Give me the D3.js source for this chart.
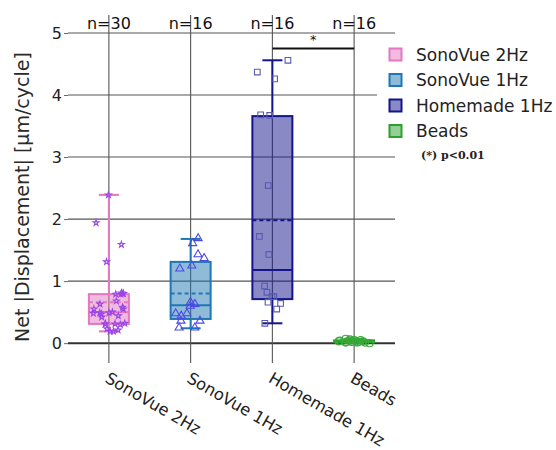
<!DOCTYPE html>
<html>
<head>
<meta charset="utf-8">
<script src="https://cdn.jsdelivr.net/npm/d3@7"></script>
<style>
  html, body { margin: 0; padding: 0; background: #fff; }
  svg { display: block; font-family: "DejaVu Sans", Verdana, sans-serif; }
</style>
</head>
<body>
<svg id="chart" width="556" height="450"></svg>
<script>
// ---- data -------------------------------------------------------------
const categories = ["SonoVue 2Hz", "SonoVue 1Hz", "Homemade 1Hz", "Beads"];
const counts = [30, 16, 16, 16];

// individual net displacement measurements (µm/cycle)
const sonoVue2Hz = [2.39, 1.94, 1.59, 1.31, 0.80, 0.80, 0.81, 0.79, 0.79, 0.68,
                    0.63, 0.58, 0.55, 0.55, 0.49, 0.48, 0.47, 0.42, 0.49, 0.50,
                    0.44, 0.31, 0.32, 0.31, 0.31, 0.30, 0.23, 0.19, 0.19, 0.21];
const sonoVue1Hz = [1.69, 1.61, 1.43, 1.37, 1.25, 1.20, 0.66, 0.63,
                    0.60, 0.48, 0.48, 0.44, 0.36, 0.36, 0.25, 0.25];
const homemade1Hz = [4.56, 4.37, 4.26, 3.67, 3.68, 2.54, 1.72, 1.43,
                     0.92, 0.82, 0.75, 0.75, 0.66, 0.55, 0.64, 0.32];
const beads = [0.07, 0.06, 0.05, 0.05, 0.04, 0.04, 0.03, 0.03,
               0.03, 0.02, 0.02, 0.02, 0.01, 0.01, 0.01, 0.00];

// box summaries per group
const lowerFence = [0.19, 0.24, 0.32, 0.00];
const q1 = [0.31, 0.39, 0.71, 0.015];
const median = [0.50, 0.61, 1.18, 0.03];
const q3 = [0.79, 1.31, 3.66, 0.045];
const upperFence = [2.39, 1.68, 4.56, 0.07];
const mean = [0.66, 0.80, 1.98, 0.03];

const yTicks = [0, 1, 2, 3, 4, 5];
const significance = { from: "Homemade 1Hz", to: "Beads", level: 4.75, mark: "*" };
const footnote = "(*) p<0.01";

// ---- styles -----------------------------------------------------------
const groupStyle = [
  { line: "#e377c2", fill: "#e377c2", point: "#9b45e8", symbol: d3.symbolStar, size: 11 },
  { line: "#1f77b4", fill: "#1f77b4", point: "#4a4ae6", symbol: d3.symbolTriangle, size: 28 },
  { line: "#14148c", fill: "#14148c", point: "#5a5ab4", symbol: d3.symbolSquare, size: 32 },
  { line: "#2ca02c", fill: "#2ca02c", point: "#3aa83a", symbol: d3.symbolCircle, size: 40 }
];
const groups = [sonoVue2Hz, sonoVue1Hz, homemade1Hz, beads];

// ---- scales -----------------------------------------------------------
const svg = d3.select("#chart");
const plotLeft = 68, plotRight = 395, plotTop = 15, plotBottom = 363;

const x = d3.scalePoint().domain(categories).range([plotLeft, plotRight]).padding(0.5);
const y = d3.scaleLinear().domain([-0.32, 5.29]).range([plotBottom, plotTop]);
const boxW = 40;

// ---- grid -------------------------------------------------------------
const grid = svg.append("g");
grid.selectAll("line.h").data(yTicks).join("line")
  .attr("x1", plotLeft).attr("x2", plotRight)
  .attr("y1", d => y(d)).attr("y2", d => y(d))
  .attr("stroke", d => d === 0 ? "#333" : "#555")
  .attr("stroke-width", d => d === 0 ? 2 : 1.1);
grid.selectAll("line.v").data(categories).join("line")
  .attr("x1", d => x(d)).attr("x2", d => x(d))
  .attr("y1", plotTop).attr("y2", plotBottom)
  .attr("stroke", "#555").attr("stroke-width", 1.1);

// y axis
const yAxis = svg.append("g").attr("transform", `translate(${plotLeft},0)`)
  .call(d3.axisLeft(y).tickValues(yTicks).tickFormat(d3.format("d")).tickSize(4).tickPadding(2));
yAxis.select(".domain").remove();
yAxis.selectAll(".tick line").attr("stroke", "#666");
yAxis.selectAll(".tick text").attr("font-size", 16).attr("fill", "#222")
  .attr("font-family", "DejaVu Sans, sans-serif");

svg.append("text")
  .attr("transform", `translate(22,${(plotTop + plotBottom) / 2 + 8}) rotate(-90)`)
  .attr("text-anchor", "middle").attr("dominant-baseline", "central")
  .attr("font-size", 19).attr("fill", "#2a2a2a")
  .text("Net |Displacement| [µm/cycle]");

// x labels, rotated
svg.append("g").selectAll("text").data(categories).join("text")
  .attr("transform", d => `translate(${x(d) + 1},${plotBottom + 8}) rotate(30)`)
  .attr("text-anchor", "start").attr("dominant-baseline", "hanging")
  .attr("font-size", 16.3).attr("fill", "#222")
  .text(d => d);

// n = labels
svg.append("g").selectAll("text").data(categories).join("text")
  .attr("x", d => x(d)).attr("y", 23)
  .attr("text-anchor", "middle").attr("dominant-baseline", "central")
  .attr("font-size", 16).attr("fill", "#111")
  .text((d, i) => `n=${counts[i]}`);

// ---- boxes ------------------------------------------------------------
const boxes = svg.append("g");
categories.forEach((cat, i) => {
  const cx = x(cat), st = groupStyle[i];
  const g = boxes.append("g");
  // whiskers
  g.append("line").attr("x1", cx).attr("x2", cx)
    .attr("y1", y(q3[i])).attr("y2", y(upperFence[i]))
    .attr("stroke", st.line).attr("stroke-width", 2);
  g.append("line").attr("x1", cx).attr("x2", cx)
    .attr("y1", y(q1[i])).attr("y2", y(lowerFence[i]))
    .attr("stroke", st.line).attr("stroke-width", 2);
  [upperFence[i], lowerFence[i]].forEach(v => {
    g.append("line").attr("x1", cx - boxW / 4).attr("x2", cx + boxW / 4)
      .attr("y1", y(v)).attr("y2", y(v))
      .attr("stroke", st.line).attr("stroke-width", 2);
  });
  // box
  g.append("rect")
    .attr("x", cx - boxW / 2).attr("width", boxW)
    .attr("y", y(q3[i])).attr("height", Math.max(y(q1[i]) - y(q3[i]), 1))
    .attr("fill", st.fill).attr("fill-opacity", 0.5)
    .attr("stroke", st.line).attr("stroke-width", 2);
  // median
  g.append("line").attr("x1", cx - boxW / 2).attr("x2", cx + boxW / 2)
    .attr("y1", y(median[i])).attr("y2", y(median[i]))
    .attr("stroke", st.line).attr("stroke-width", 2);
  // mean
  g.append("line").attr("x1", cx - boxW / 2).attr("x2", cx + boxW / 2)
    .attr("y1", y(mean[i])).attr("y2", y(mean[i]))
    .attr("stroke", st.line).attr("stroke-width", 2).attr("stroke-dasharray", "4,3");

  // points with a seeded horizontal jitter
  const jitter = d3.randomUniform.source(d3.randomLcg(0.17 + i * 0.29))(-1, 1);
  g.append("g").selectAll("path").data(groups[i]).join("path")
    .attr("transform", d => `translate(${cx + jitter() * (boxW / 2 - 4)},${y(d)})`)
    .attr("d", d3.symbol(st.symbol, st.size))
    .attr("fill", "none").attr("stroke", st.point).attr("stroke-width", 1.1);
});

// ---- significance bracket --------------------------------------------
svg.append("line")
  .attr("x1", x(significance.from)).attr("x2", x(significance.to))
  .attr("y1", y(significance.level)).attr("y2", y(significance.level))
  .attr("stroke", "#111").attr("stroke-width", 2);
svg.append("text")
  .attr("x", (x(significance.from) + x(significance.to)) / 2)
  .attr("y", y(significance.level) - 4)
  .attr("text-anchor", "middle").attr("font-size", 13).attr("fill", "#111")
  .text(significance.mark);

// ---- legend -----------------------------------------------------------
const legend = svg.append("g");
legend.append("rect").attr("x", 377).attr("y", 42).attr("width", 179).attr("height", 100)
  .attr("fill", "#fff");
const items = legend.selectAll("g.item").data(categories).join("g")
  .attr("transform", (d, i) => `translate(389,${54.5 + i * 25.5})`);
items.append("rect").attr("x", 0.5).attr("y", -6).attr("width", 12).attr("height", 12)
  .attr("fill", (d, i) => groupStyle[i].fill).attr("fill-opacity", 0.5)
  .attr("stroke", (d, i) => groupStyle[i].line).attr("stroke-width", 2);
items.append("text").attr("x", 27).attr("y", 0)
  .attr("dominant-baseline", "central").attr("font-size", 17).attr("fill", "#222")
  .text(d => d);

svg.append("text").attr("x", 421).attr("y", 155)
  .attr("dominant-baseline", "central")
  .attr("font-family", "DejaVu Serif, serif").attr("font-weight", "bold")
  .attr("font-size", 11).attr("fill", "#222")
  .text(footnote);
</script>
</body>
</html>
